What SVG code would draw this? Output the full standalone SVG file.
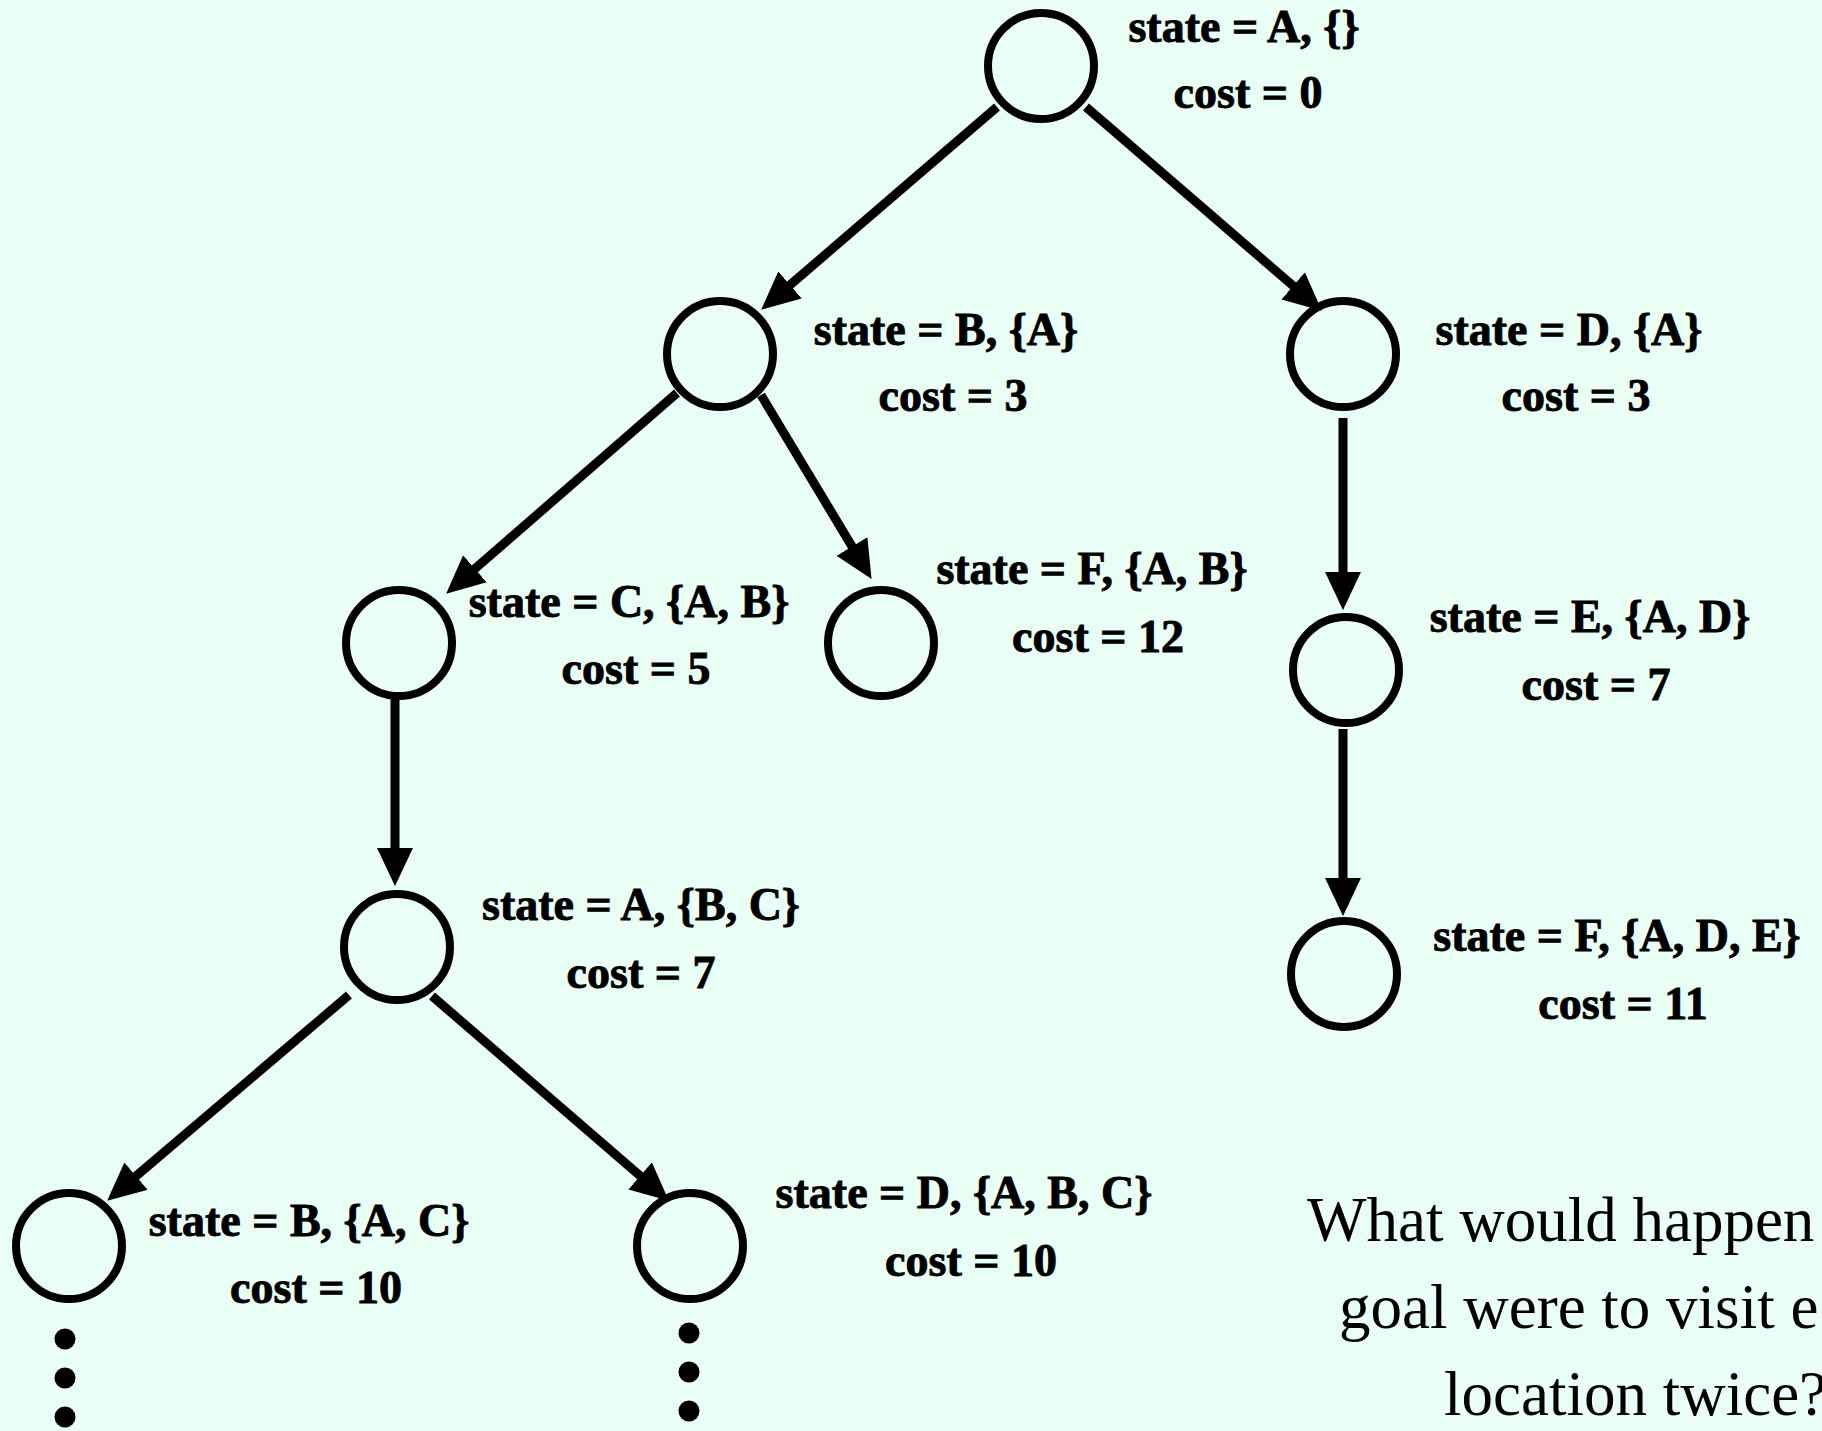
<svg xmlns="http://www.w3.org/2000/svg" width="1822" height="1431" viewBox="0 0 1822 1431">
<defs>
<style>
.node{fill:none;stroke:#000;stroke-width:8}
.lbl{font-family:"Liberation Serif","Times New Roman",serif;font-weight:bold;font-size:46px;fill:#000;stroke:#000;stroke-width:0.9;text-anchor:middle}
.edge{stroke:#000;stroke-width:9;fill:none}
.dot{fill:#000}
.q{font-family:"Liberation Serif","Times New Roman",serif;font-size:63px;fill:#000}
</style>
<marker id="arr" markerUnits="userSpaceOnUse" markerWidth="38" markerHeight="36" viewBox="0 0 36 34" refX="16" refY="17" orient="auto">
<path d="M0,0 L36,17 L0,34 z" fill="#000"/>
</marker>
</defs>
<rect x="0" y="0" width="1822" height="1431" fill="#E9FEF4"/>
<g id="connectors">
<line class="edge" x1="997" y1="107" x2="777.2" y2="296" marker-end="url(#arr)"/>
<line class="edge" x1="1086" y1="107" x2="1305.9" y2="296.9" marker-end="url(#arr)"/>
<line class="edge" x1="677" y1="393" x2="462.1" y2="579.9" marker-end="url(#arr)"/>
<line class="edge" x1="761" y1="395" x2="860.7" y2="560.9" marker-end="url(#arr)"/>
<line class="edge" x1="1343" y1="418" x2="1343" y2="589" marker-end="url(#arr)"/>
<line class="edge" x1="1343" y1="729" x2="1343" y2="895" marker-end="url(#arr)"/>
<line class="edge" x1="395" y1="697" x2="395" y2="865" marker-end="url(#arr)"/>
<line class="edge" x1="349" y1="995" x2="123.2" y2="1187" marker-end="url(#arr)"/>
<line class="edge" x1="432" y1="996" x2="652.9" y2="1186.9" marker-end="url(#arr)"/>
</g>
<g id="node-A0">
<circle class="node" cx="1041" cy="66" r="53"/>
<text class="lbl" x="1244" y="42">state = A, {}</text>
<text class="lbl" x="1248" y="108">cost = 0</text>
</g>
<g id="node-B">
<circle class="node" cx="720" cy="354" r="53"/>
<text class="lbl" x="946" y="345">state = B, {A}</text>
<text class="lbl" x="953" y="411">cost = 3</text>
</g>
<g id="node-D">
<circle class="node" cx="1343" cy="354" r="53"/>
<text class="lbl" x="1569" y="345">state = D, {A}</text>
<text class="lbl" x="1576" y="411">cost = 3</text>
</g>
<g id="node-C">
<circle class="node" cx="399" cy="643" r="53"/>
<text class="lbl" x="629" y="617">state = C, {A, B}</text>
<text class="lbl" x="636" y="684">cost = 5</text>
</g>
<g id="node-F12">
<circle class="node" cx="881" cy="643" r="53"/>
<text class="lbl" x="1092" y="584">state = F, {A, B}</text>
<text class="lbl" x="1098" y="652">cost = 12</text>
</g>
<g id="node-E">
<circle class="node" cx="1346" cy="670" r="53"/>
<text class="lbl" x="1590" y="632">state = E, {A, D}</text>
<text class="lbl" x="1596" y="700">cost = 7</text>
</g>
<g id="node-F11">
<circle class="node" cx="1344" cy="974" r="53"/>
<text class="lbl" x="1617" y="951">state = F, {A, D, E}</text>
<text class="lbl" x="1623" y="1019">cost = 11</text>
</g>
<g id="node-A2">
<circle class="node" cx="397" cy="947" r="53"/>
<text class="lbl" x="641" y="920">state = A, {B, C}</text>
<text class="lbl" x="641" y="988">cost = 7</text>
</g>
<g id="node-B2">
<circle class="node" cx="69" cy="1246" r="53"/>
<text class="lbl" x="309" y="1236">state = B, {A, C}</text>
<text class="lbl" x="316" y="1303">cost = 10</text>
<circle class="dot" cx="65" cy="1339" r="10.5"/>
<circle class="dot" cx="65" cy="1378" r="10.5"/>
<circle class="dot" cx="65" cy="1417" r="10.5"/>
</g>
<g id="node-D2">
<circle class="node" cx="690" cy="1246" r="53"/>
<text class="lbl" x="964" y="1208">state = D, {A, B, C}</text>
<text class="lbl" x="971" y="1276">cost = 10</text>
<circle class="dot" cx="689" cy="1333" r="10.5"/>
<circle class="dot" cx="689" cy="1372" r="10.5"/>
<circle class="dot" cx="689" cy="1411" r="10.5"/>
</g>
<g id="question">
<text class="q" x="1307" y="1241">What would happen</text>
<text class="q" x="1339" y="1328">goal were to visit e</text>
<text class="q" x="1444" y="1415">location twice?</text>
</g>
</svg>
